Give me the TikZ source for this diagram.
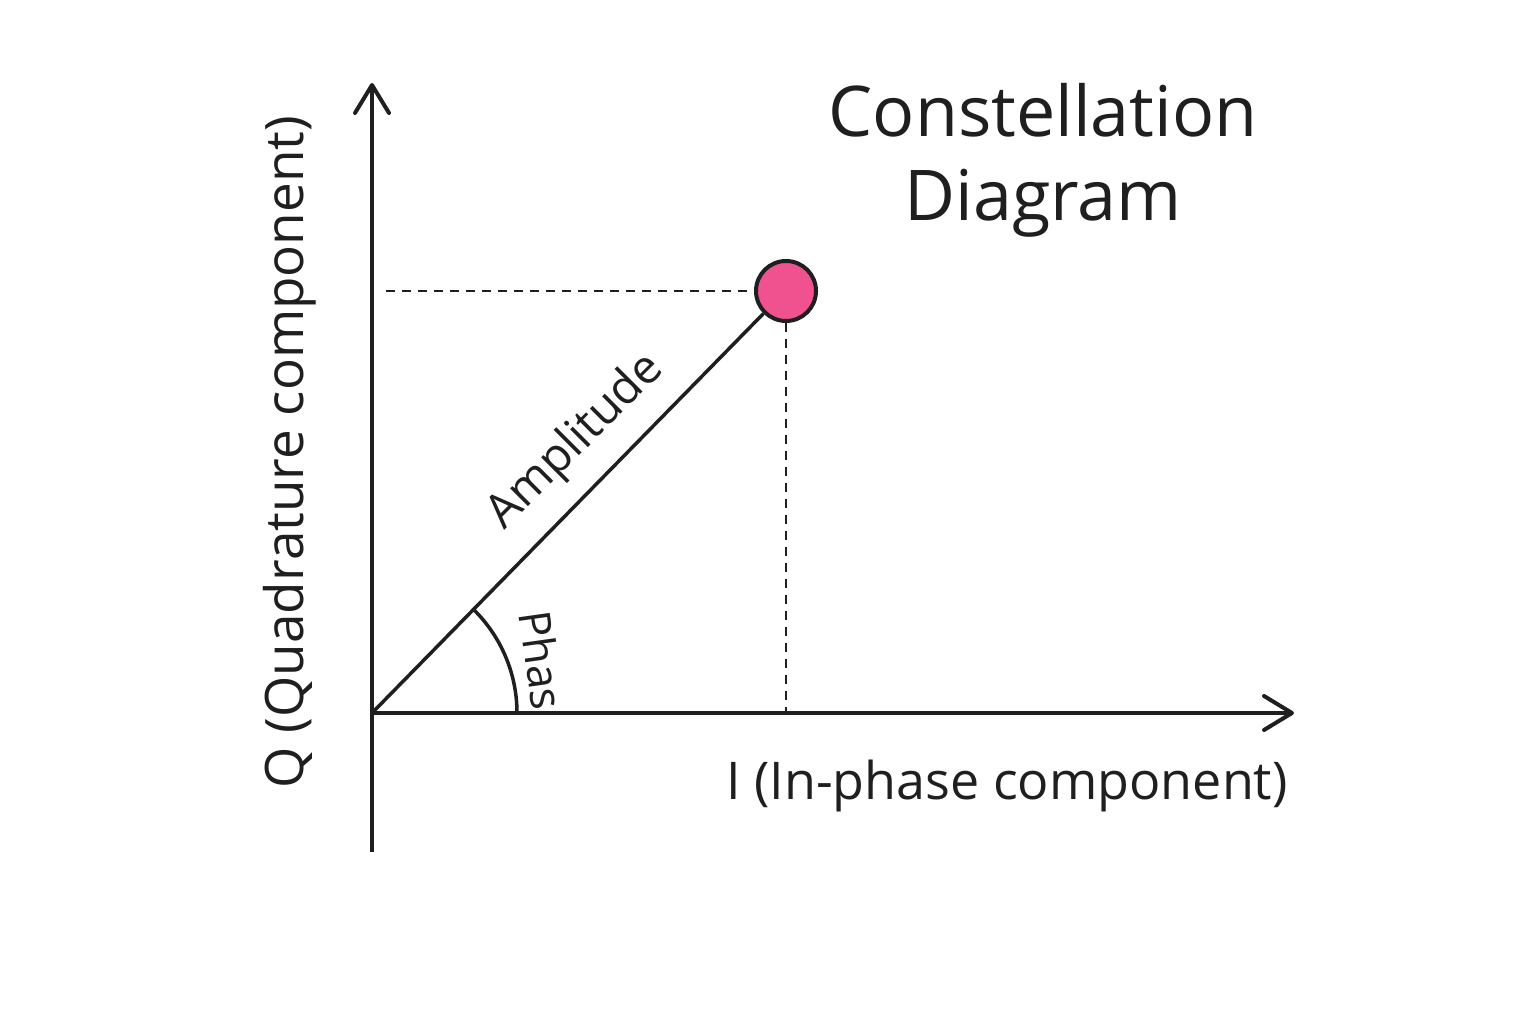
\documentclass[tikz,border=0pt]{standalone}
\usepackage{fontspec}
\setmainfont{Open Sans}
\begin{document}
\begin{tikzpicture}[x=1pt,y=-1pt,
  ax/.style={line width=4pt,color=black!88},
  dsh/.style={line width=2pt,dash pattern=on 9pt off 7pt,color=black!88},
  lbl/.style={font=\fontsize{44}{50}\selectfont,text=black!88,inner sep=0pt}]
\useasboundingbox (0,0) rectangle (1536,1024);
\coordinate (O) at (372,713);
\coordinate (Ytop) at (372,85);
\coordinate (Ybot) at (372,852);
\coordinate (Xend) at (1292,713);
\coordinate (Qy) at (386,291);
\coordinate (Px) at (786,713);
\draw[ax] (Ybot) -- (Ytop);
\draw[ax,line cap=round,line join=round] (355,113) -- (Ytop) -- (389,113);
\draw[ax] (O) -- (Xend);
\draw[ax,line cap=round,line join=round] (1264,696) -- (Xend) -- (1264,730);
\node[circle,minimum size=60pt,inner sep=0pt,fill={rgb,255:red,240;green,82;blue,143},draw=black!88,line width=4pt] (P) at (786,291) {};
\draw[dsh] (Qy) -- (P.west);
\draw[dsh] (P.south) -- (Px);
\draw[line width=3.5pt,color=black!88] (O) -- (P.225);
\draw[line width=3.5pt,color=black!88] (517,713) arc[start angle=0,end angle=-45,radius=145];
\node[lbl,rotate=45,font=\fontsize{47}{52}\selectfont] (amp) at (576,442) {Amplitude};
\node[lbl,rotate=-82,font=\fontsize{44}{50}\selectfont] (ph) at (542,660) {Phas};
\node[lbl,font=\fontsize{53}{60}\selectfont,rotate=90] (Q) at (290,452) {Q (Quadrature component)};
\node[lbl,font=\fontsize{52}{60}\selectfont] (I) at (1007,786) {I (In-phase component)};
\node[lbl,font=\fontsize{70}{84}\selectfont,align=center] (T) at (1043,160) {Constellation\\Diagram};
\end{tikzpicture}
\end{document}
